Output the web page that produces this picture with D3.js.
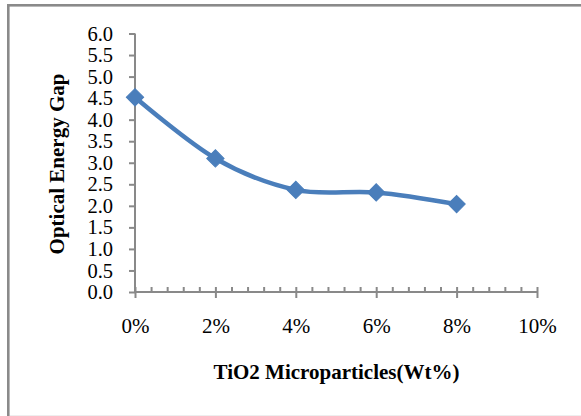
<!DOCTYPE html>
<html><head><meta charset="utf-8">
<script src="https://cdn.jsdelivr.net/npm/d3@7"></script>
<style>html,body{margin:0;padding:0;background:#fff;overflow:hidden}</style>
</head><body>
<script>
const xValues = [0, 2, 4, 6, 8];
const yValues = [4.52, 3.10, 2.37, 2.31, 2.04];
const xTicks = [0, 2, 4, 6, 8, 10];
const yTicks = [0, 0.5, 1, 1.5, 2, 2.5, 3, 3.5, 4, 4.5, 5, 5.5, 6];
const xTitle = "TiO2 Microparticles(Wt%)";
const yTitle = "Optical Energy Gap";

const W = 581, H = 416;
const svg = d3.select("body").append("svg").attr("width", W).attr("height", H);
const font = "'Liberation Serif','Times New Roman',serif";
const axisColor = "#898989";

// outer frame
svg.append("rect").attr("x", 8.3).attr("y", 5.3).attr("width", W + 20).attr("height", H + 20)
  .attr("fill", "none").attr("stroke", "#8a8a8a").attr("stroke-width", 2.6);
svg.append("line").attr("x1", 10).attr("x2", W).attr("y1", 415.5).attr("y2", 415.5)
  .attr("stroke", "#eeeeee").attr("stroke-width", 1);

const x = d3.scaleLinear().domain([0, 10]).range([135, 537]);
const y = d3.scaleLinear().domain([0, 6]).range([292, 33.5]);

// y axis
const gy = svg.append("g").attr("transform", `translate(${x(0)},0)`)
  .call(d3.axisLeft(y).tickValues(yTicks).tickFormat(d3.format(".1f")).tickSize(6).tickPadding(16));
gy.select(".domain").attr("stroke", axisColor).attr("stroke-width", 2).attr("d", `M0,${y(0)}V${y(6)}`);
gy.selectAll(".tick line").attr("stroke", axisColor).attr("stroke-width", 2);
gy.selectAll(".tick text").attr("font-family", font).attr("font-size", 20.5).attr("fill", "#000");

// x axis minor ticks (inside)
const minor = d3.range(0, 10.001, 0.4).filter(v => Math.abs(v / 2 - Math.round(v / 2)) > 1e-6);
const gxm = svg.append("g").attr("transform", `translate(0,${y(0)})`)
  .call(d3.axisTop(x).tickValues(minor).tickFormat("").tickSize(5));
gxm.select(".domain").remove();
gxm.selectAll(".tick line").attr("stroke", axisColor).attr("stroke-width", 2);

// x axis major ticks (cross)
const gx = svg.append("g").attr("transform", `translate(0,${y(0)})`)
  .call(d3.axisBottom(x).tickValues(xTicks).tickFormat(d => d + "%").tickSize(6).tickPadding(20));
gx.select(".domain").attr("stroke", axisColor).attr("stroke-width", 2).attr("d", `M${x(0)},0H${x(10)}`);
gx.selectAll(".tick line").attr("stroke", axisColor).attr("stroke-width", 2).attr("y1", -5);
gx.selectAll(".tick text").attr("font-family", font).attr("font-size", 21).attr("fill", "#000");

// titles
svg.append("text").attr("x", 336.5).attr("y", 379).attr("text-anchor", "middle")
  .attr("font-family", font).attr("font-weight", "bold").attr("font-size", 21).text(xTitle);
svg.append("text").attr("transform", `translate(64,164) rotate(-90)`).attr("text-anchor", "middle")
  .attr("font-family", font).attr("font-weight", "bold").attr("font-size", 21).text(yTitle);

// series
const pts = xValues.map((v, i) => [v, yValues[i]]);
const color = "#4a7ebb";
svg.append("path").datum(pts)
  .attr("d", d3.line().x(d => x(d[0])).y(d => y(d[1])).curve(d3.curveCardinal.tension(0)))
  .attr("fill", "none").attr("stroke", color).attr("stroke-width", 4.5).attr("stroke-linecap", "round");
const sym = d3.symbol().type(d3.symbolSquare).size(150);
svg.selectAll(".m").data(pts).enter().append("path")
  .attr("transform", d => `translate(${x(d[0])},${y(d[1])}) rotate(45)`)
  .attr("d", sym).attr("fill", color).attr("stroke", color).attr("stroke-width", 1);
</script>
</body></html>
